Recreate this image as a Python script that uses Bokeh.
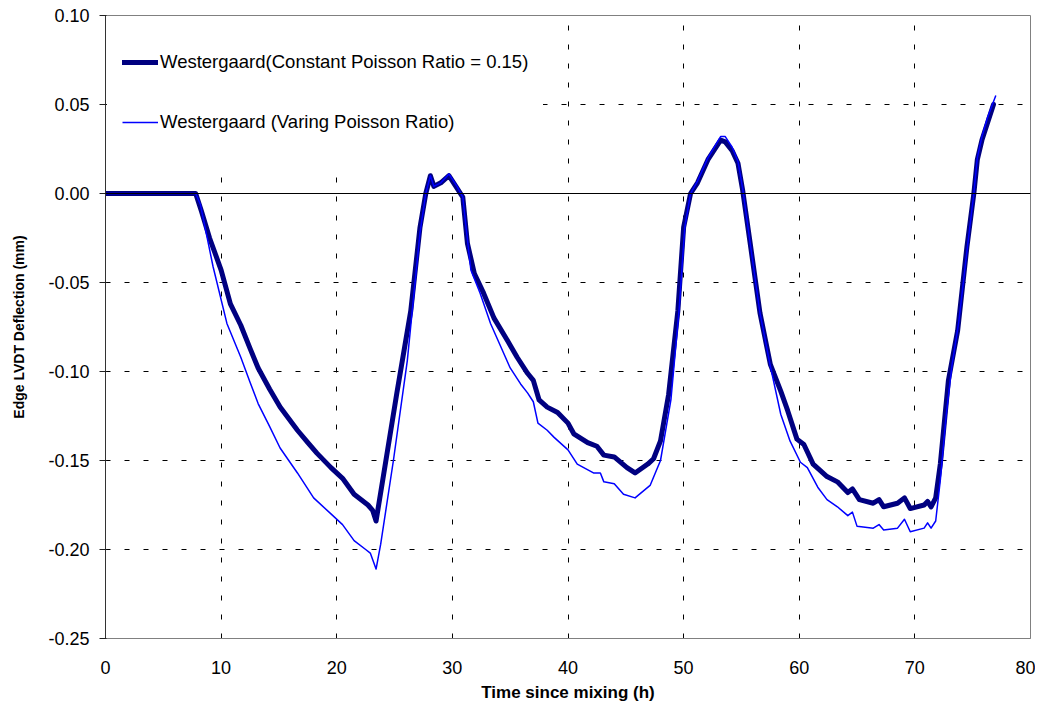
from bokeh.plotting import figure
from bokeh.models import (Range1d, FixedTicker, NumeralTickFormatter, Legend, LegendItem, Span)
from bokeh.embed import file_html
from bokeh.resources import INLINE

# ---- data ----
const_t = [0, 7.8, 8.3, 9.0, 10.0, 10.8, 11.7, 12.5, 13.2, 14.2, 15.1, 16.6, 17.5, 18.3, 19.5, 20.5,
           21.5, 22.7, 23.1, 23.4, 24.0, 25.2, 26.4, 27.2, 27.7, 28.1, 28.4, 29.0, 29.7, 30.4, 30.9,
           31.3, 31.9, 32.7, 33.6, 34.8, 35.6, 36.5, 37.0, 37.5, 38.2, 39.1, 40.0, 40.5, 41.7, 42.5,
           43.1, 44.0, 45.1, 45.8, 46.9, 47.4, 48.0, 48.7, 49.5, 50.0, 50.6, 51.2, 52.1, 53.2, 53.6,
           54.2, 54.7, 55.1, 55.8, 56.6, 57.5, 58.4, 59.0, 59.8, 60.4, 61.2, 62.4, 63.3, 64.2, 64.6,
           65.2, 66.4, 66.9, 67.3, 68.5, 69.1, 69.6, 70.8, 71.1, 71.4, 71.8, 72.2, 72.9, 73.7, 74.5,
           75.1, 75.4, 75.8, 76.3, 76.8]
const_d = [0, 0, -0.010, -0.025, -0.043, -0.062, -0.074, -0.087, -0.098, -0.110, -0.120, -0.133,
           -0.140, -0.146, -0.154, -0.160, -0.169, -0.175, -0.178, -0.184, -0.160, -0.112, -0.066,
           -0.019, 0.0, 0.010, 0.004, 0.006, 0.010, 0.003, -0.002, -0.028, -0.045, -0.056, -0.070,
           -0.083, -0.092, -0.101, -0.105, -0.116, -0.120, -0.123, -0.129, -0.135, -0.140, -0.142,
           -0.147, -0.148, -0.154, -0.157, -0.152, -0.149, -0.139, -0.113, -0.066, -0.019, 0.0,
           0.006, 0.019, 0.030, 0.029, 0.024, 0.017, 0.002, -0.030, -0.067, -0.096, -0.111, -0.122,
           -0.138, -0.141, -0.152, -0.159, -0.162, -0.168, -0.166, -0.172, -0.174, -0.172, -0.176,
           -0.174, -0.171, -0.177, -0.175, -0.173, -0.176, -0.171, -0.152, -0.105, -0.077, -0.030,
           0.0, 0.019, 0.030, 0.040, 0.050]

vary_t = [0, 7.8, 8.2, 9.3, 10.5, 11.7, 12.5, 13.2, 14.2, 15.1, 16.6, 18.0, 19.5, 20.5, 21.5, 22.5,
          22.9, 23.4, 23.8, 24.9, 26.1, 27.2, 27.7, 28.1, 28.4, 29.0, 29.7, 30.4, 30.9, 31.2, 31.6,
          32.4, 33.3, 35.0, 35.9, 36.5, 37.0, 37.4, 38.2, 38.8, 40.0, 40.8, 42.2, 42.8, 43.1, 44.0,
          44.8, 45.8, 47.1, 48.0, 48.9, 49.6, 50.1, 50.6, 51.2, 52.1, 53.2, 53.6, 54.2, 54.7, 55.1,
          55.8, 56.6, 57.5, 58.4, 59.2, 60.1, 60.7, 61.6, 62.4, 63.3, 64.2, 64.6, 65.0, 66.4, 66.9,
          67.3, 68.5, 69.1, 69.6, 70.8, 71.1, 71.4, 71.8, 72.2, 72.7, 73.2, 73.8, 74.6, 75.1, 75.4,
          75.8, 76.3, 77.0]
vary_d = [0, 0, -0.006, -0.041, -0.073, -0.092, -0.106, -0.118, -0.131, -0.143, -0.157, -0.171,
          -0.180, -0.186, -0.195, -0.200, -0.202, -0.211, -0.197, -0.150, -0.094, -0.022, 0.0,
          0.010, 0.004, 0.006, 0.011, 0.004, -0.002, -0.020, -0.043, -0.056, -0.073, -0.098,
          -0.107, -0.112, -0.117, -0.129, -0.133, -0.137, -0.144, -0.152, -0.157, -0.157, -0.162,
          -0.163, -0.169, -0.171, -0.164, -0.150, -0.116, -0.066, -0.019, 0.0, 0.007, 0.020,
          0.032, 0.032, 0.026, 0.018, 0.003, -0.030, -0.067, -0.097, -0.124, -0.139, -0.151,
          -0.154, -0.165, -0.172, -0.176, -0.181, -0.179, -0.187, -0.188, -0.186, -0.189, -0.188,
          -0.183, -0.190, -0.188, -0.185, -0.188, -0.184, -0.161, -0.125, -0.097, -0.072, -0.027,
          0.0, 0.020, 0.032, 0.043, 0.055]

x_ticks = [0, 10, 20, 30, 40, 50, 60, 70, 80]
y_ticks = [-0.25, -0.20, -0.15, -0.10, -0.05, 0.00, 0.05, 0.10]

label_const = "Westergaard(Constant Poisson Ratio = 0.15)"
label_vary = "Westergaard (Varing Poisson Ratio)"
x_title = "Time since mixing (h)"
y_title = "Edge LVDT Deflection (mm)"

FONT = "Liberation Sans"

p = figure(width=1035, height=704, output_backend="svg", toolbar_location=None,
           x_range=Range1d(0, 80), y_range=Range1d(-0.25, 0.10),
           min_border_left=105, min_border_right=5, min_border_top=15, min_border_bottom=65)
p.background_fill_color = "white"
p.border_fill_color = "white"
p.outline_line_color = "#808080"
p.outline_line_width = 1

# axes
p.xaxis.ticker = FixedTicker(ticks=x_ticks)
p.yaxis.ticker = FixedTicker(ticks=y_ticks)
p.yaxis.formatter = NumeralTickFormatter(format="0.00")
p.xaxis.major_tick_line_color = None
p.xaxis.minor_tick_line_color = None
p.yaxis.minor_tick_line_color = None
p.yaxis.major_tick_out = 6
p.yaxis.major_tick_in = 1
p.yaxis.major_tick_line_color = "#222222"
p.xaxis.axis_line_color = "#808080"
p.yaxis.axis_line_color = "#333333"
for ax in (p.xaxis, p.yaxis):
    ax.major_label_text_font = FONT
    ax.major_label_text_font_size = "18px"
    ax.major_label_text_color = "black"
    ax.axis_label_text_font = FONT
    ax.axis_label_text_font_style = "bold"
    ax.axis_label_text_color = "black"
p.xaxis.major_label_standoff = 16
p.yaxis.major_label_standoff = 10
p.xaxis.axis_label = x_title
p.xaxis.axis_label_text_font_size = "17px"
p.xaxis.axis_label_standoff = 6
p.yaxis.axis_label = y_title
p.yaxis.axis_label_text_font_size = "14px"
p.yaxis.axis_label_standoff = 18

# grid
for g in (p.xgrid, p.ygrid):
    g.grid_line_color = "black"
    g.grid_line_width = 1
    g.grid_line_dash = "5 14"
    g.grid_line_alpha = 1.0
p.xgrid.ticker = FixedTicker(ticks=x_ticks[1:-1])
p.ygrid.ticker = FixedTicker(ticks=y_ticks[1:-1])

# zero line
p.add_layout(Span(location=0, dimension="width", line_color="black", line_width=1.2))

# series
r_const = p.line(const_t, const_d, line_color="#000080", line_width=5, line_join="round", line_cap="round")
r_vary = p.line(vary_t, vary_d, line_color="#0000FF", line_width=1.5, line_join="round")

legend = Legend(items=[LegendItem(label=label_const, renderers=[r_const]),
                       LegendItem(label=label_vary, renderers=[r_vary])],
                location="top_left", margin=2, padding=15, spacing=0,
                label_height=60, glyph_height=20, glyph_width=36, label_standoff=2,
                label_text_font=FONT, label_text_font_size="18.5px", label_text_color="black",
                background_fill_color="white", background_fill_alpha=1.0,
                border_line_alpha=0)
p.add_layout(legend)

open("out.html", "w").write(file_html(p, INLINE))
